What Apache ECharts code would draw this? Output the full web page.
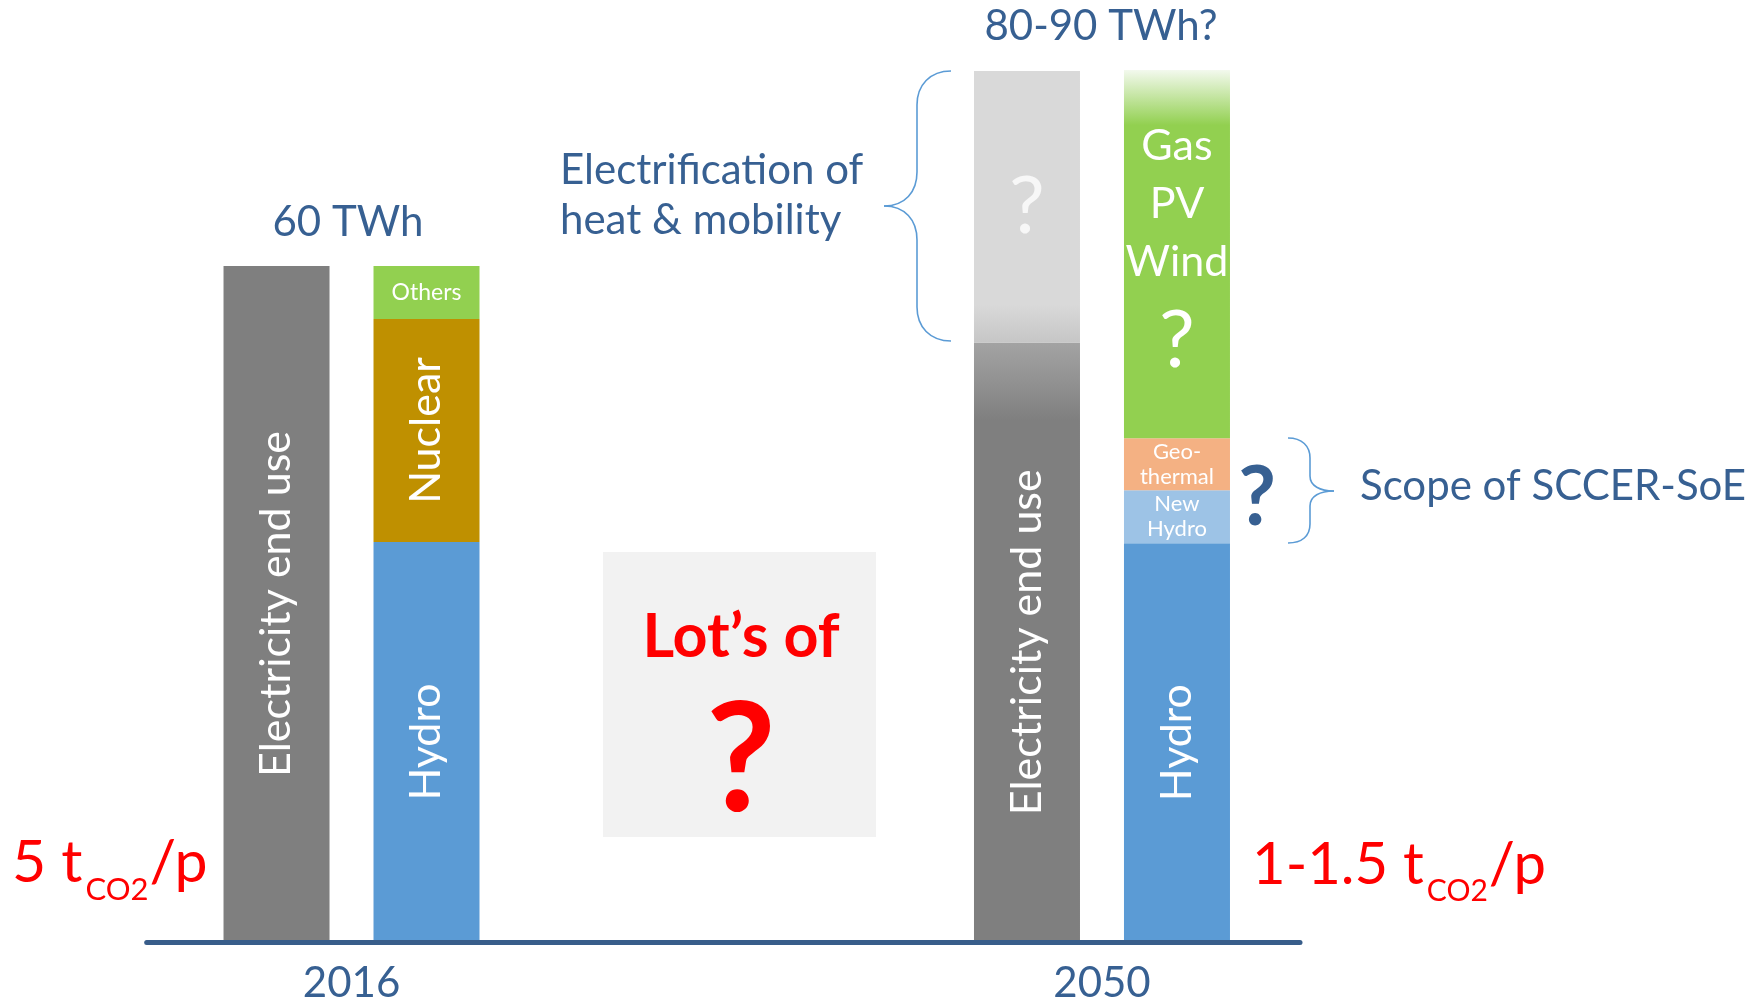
<!DOCTYPE html>
<html><head><meta charset="utf-8">
<script src="https://cdn.jsdelivr.net/npm/echarts@6/dist/echarts.min.js"></script>
<style>html,body{margin:0;padding:0;background:#fff}#c{width:1760px;height:1002px}</style>
</head><body><div id="c"></div>
<script>
// ---- data (TWh); middle slot is the empty gap between the two years ----
const categories = ['2016', '', '2050'];
const years = [2016, 2050];
const totals = ['60 TWh', '80-90 TWh?'];
const endUse = [60, null, 53.2];
const electrification = [null, null, 24.1];
const hydro = [35.5, null, 35.4];
const nuclear = [19.8, null, null];
const others = [4.7, null, null];
const newHydro = [null, null, 4.7];
const geothermal = [null, null, 4.6];
const gasPvWind = [null, null, 32.7];
const co2Labels = [['5 t', 'CO2', '/p'], ['1-1.5 t', 'CO2', '/p']];

const FONT = 'Lato, "Open Sans", sans-serif';
const TXT = '#376092';
const RED = '#ff0000';
const G = echarts.graphic.LinearGradient;

function pts(arr, itemStyleFor) {
  return arr.map(function (v, i) {
    if (v == null) return '-';
    const st = itemStyleFor ? itemStyleFor(i) : null;
    return st ? { value: v, itemStyle: st } : v;
  });
}
function lbl(text, size, rot, extra) {
  return Object.assign({ show: true, position: 'inside', rotate: rot || 0, formatter: text,
    color: '#fff', fontSize: size, fontFamily: FONT, lineHeight: Math.round(size * 1.12) }, extra || {});
}
const common = { type: 'bar', xAxisIndex: 0, yAxisIndex: 0, barWidth: 106, barGap: '41.5%', emphasis: { disabled: true } };

const series = [
  Object.assign({}, common, { name: 'Electricity end use', stack: 'demand', itemStyle: { color: '#7f7f7f' },
    data: pts(endUse, function (i) { return i === 2 ? { color: new G(0, 0, 0, 1, [
      { offset: 0, color: '#a3a3a3' }, { offset: 0.06, color: '#939393' }, { offset: 0.13, color: '#7f7f7f' }, { offset: 1, color: '#7f7f7f' }]) } : null; }),
    label: lbl('Electricity end use', 43, 90) }),
  Object.assign({}, common, { name: 'Electrification', stack: 'demand',
    data: pts(electrification, function () { return { color: new G(0, 0, 0, 1, [
      { offset: 0, color: '#d9d9d9' }, { offset: 0.86, color: '#d9d9d9' }, { offset: 1, color: '#c6c6c6' }]) }; }),
    label: lbl('?', 80, 0, { color: '#f7f7f7' }) }),
  Object.assign({}, common, { name: 'Hydro', stack: 'supply', itemStyle: { color: '#5b9bd5' },
    data: pts(hydro), label: lbl('Hydro', 43, 90) }),
  Object.assign({}, common, { name: 'Nuclear', stack: 'supply', itemStyle: { color: '#bf9000' },
    data: pts(nuclear), label: lbl('Nuclear', 43, 90) }),
  Object.assign({}, common, { name: 'Others', stack: 'supply', itemStyle: { color: '#92d050' },
    data: pts(others), label: lbl('Others', 23, 0) }),
  Object.assign({}, common, { name: 'New Hydro', stack: 'supply', itemStyle: { color: '#9dc3e6' },
    data: pts(newHydro), label: lbl('New\nHydro', 22, 0, { lineHeight: 25 }) }),
  Object.assign({}, common, { name: 'Geothermal', stack: 'supply', itemStyle: { color: '#f4b183' },
    data: pts(geothermal), label: lbl('Geo-\nthermal', 22, 0, { lineHeight: 25 }) }),
  Object.assign({}, common, { name: 'Gas PV Wind', stack: 'supply',
    data: pts(gasPvWind, function () { return { color: new G(0, 0, 0, 1, [
      { offset: 0, color: '#f3f9ee' }, { offset: 0.15, color: '#92d050' }, { offset: 1, color: '#92d050' }]) }; }),
    label: { show: true, position: 'inside', formatter: '{t|Gas}\n{t|PV}\n{t|Wind}\n{q|?}',
      rich: { t: { fontSize: 43, lineHeight: 58, color: '#fff', fontFamily: FONT },
              q: { fontSize: 80, lineHeight: 100, color: '#fff', fontFamily: FONT } } } })
];

// text measurement for the CO2 subscripts
const mctx = document.createElement('canvas').getContext('2d');
function tw(t, f) { mctx.font = f; return mctx.measureText(t).width; }
function co2(parts, x0, baseMain, baseSub, size, subSize) {
  const fMain = size + 'px Lato', fSub = subSize + 'px Lato';
  const w1 = tw(parts[0], fMain), w2 = tw(parts[1], fSub);
  const yM = baseMain - 0.387 * size, yS = baseSub - 0.387 * subSize;
  function t(text, x, y, s) {
    return { type: 'text', x: x, y: y, silent: true, style: { text: text, fill: RED, fontSize: s, fontFamily: FONT,
      align: 'left', verticalAlign: 'middle', textAlign: 'left', textVerticalAlign: 'middle' } };
  }
  return [t(parts[0], x0, yM, size), t(parts[1], x0 + w1 + 3, yS, subSize), t(parts[2], x0 + w1 + 3 + w2 + 1, yM, size)];
}
function txt(text, x, y, size, color, opts) {
  return { type: 'text', x: x, y: y, silent: true, style: Object.assign({ text: text, fill: color, fontSize: size,
    fontFamily: FONT, align: 'center', verticalAlign: 'middle', textAlign: 'center', textVerticalAlign: 'middle' }, opts || {}) };
}
const braceStyle = { stroke: '#5b9bd5', fill: null, lineWidth: 1.6 };
function brace(segs) {
  return segs.map(function (s) {
    if (s[0] === 'L') return { type: 'line', silent: true, shape: { x1: s[1], y1: s[2], x2: s[3], y2: s[4] }, style: braceStyle };
    return { type: 'bezierCurve', silent: true, shape: { x1: s[1], y1: s[2], cpx1: s[3], cpy1: s[4], cpx2: s[5], cpy2: s[6], x2: s[7], y2: s[8] }, style: braceStyle };
  });
}
const leftBrace = brace([
  ['C', 951, 71, 930, 71, 917, 85, 917, 105], ['L', 917, 105, 917, 172],
  ['C', 917, 172, 917, 192, 905, 206, 884, 206], ['C', 884, 206, 905, 206, 917, 220, 917, 240],
  ['L', 917, 240, 917, 307], ['C', 917, 307, 917, 327, 930, 341, 951, 341]]);
const rightBrace = brace([
  ['C', 1288, 438, 1302, 438, 1310, 446, 1310, 458], ['L', 1310, 458, 1310, 476],
  ['C', 1310, 476, 1310, 486, 1320, 491, 1334, 491], ['C', 1334, 491, 1320, 491, 1310, 496, 1310, 506],
  ['L', 1310, 506, 1310, 524], ['C', 1310, 524, 1310, 536, 1302, 543, 1288, 543]]);

const graphic = [
  { type: 'rect', shape: { x: 603, y: 552, width: 273, height: 285 }, style: { fill: '#f2f2f2' }, silent: true },
  txt("Lot’s of", 741, 637, 61, RED, { fontWeight: 'bold' }),
  txt('?', 741, 762, 152, RED, { fontWeight: 'bold' }),
  txt(totals[0], 348, 222, 42, TXT),
  txt(totals[1], 1101, 26, 42, TXT),
  txt('Electrification of', 560, 170, 42, TXT, { align: 'left', textAlign: 'left' }),
  txt('heat & mobility', 560, 220, 42, TXT, { align: 'left', textAlign: 'left' }),
  txt('?', 1257, 499, 82, TXT, { fontWeight: 'bold' }),
  txt('Scope of SCCER-SoE', 1360, 486, 42, TXT, { align: 'left', textAlign: 'left' })
].concat(leftBrace, rightBrace, co2(co2Labels[0], 12, 886, 902, 59, 31), co2(co2Labels[1], 1252, 888, 903, 58, 30));

const chart = echarts.init(document.getElementById('c'), null, { renderer: 'canvas' });
chart.setOption({
  animation: false,
  backgroundColor: '#ffffff',
  grid: [
    { left: 163.9, right: 470.4, top: 40.6, bottom: 60, outerBoundsMode: 'none', containLabel: false },   // bars
    { left: 146.7, right: 460, top: 40.6, bottom: 60, outerBoundsMode: 'none', containLabel: false }      // visible year axis
  ],
  xAxis: [
    { type: 'category', gridIndex: 0, data: categories, show: false },
    { type: 'value', gridIndex: 1, min: 2006.72, max: 2058.97, z: 5,
      axisLine: { show: true, onZero: false, lineStyle: { color: '#385d8a', width: 5 } },
      axisTick: { show: false }, splitLine: { show: false },
      axisLabel: { customValues: years, formatter: function (v) { return String(v); },
        color: TXT, fontSize: 42, fontFamily: FONT, margin: 20 } }
  ],
  yAxis: [
    { type: 'value', gridIndex: 0, min: 0, max: 80, show: false },
    { type: 'value', gridIndex: 1, min: 0, max: 80, show: false }
  ],
  series: series,
  graphic: graphic
});
</script></body></html>
